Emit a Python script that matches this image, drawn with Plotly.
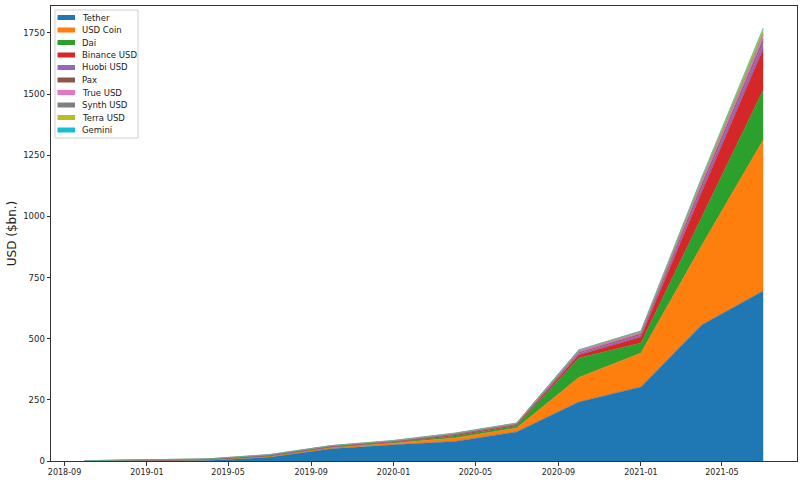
import plotly.graph_objects as go

dates = ["2018-10-01", "2019-01-01", "2019-04-01", "2019-07-01", "2019-10-01", "2020-01-01",
         "2020-04-01", "2020-07-01", "2020-10-01", "2021-01-01", "2021-04-01", "2021-07-01"]

tether = [0.5, 1, 2, 15, 50, 66, 80, 119, 241, 303, 556, 695]
usd_coin = [0.3, 1.5, 4, 5, 6, 8, 14, 16, 100, 138, 325, 617]
dai = [0, 0.1, 0.2, 0.5, 1, 2, 8, 8, 80, 41, 118, 205]
binance_usd = [0, 0.1, 0.3, 1, 1, 2, 4, 4, 12, 25, 100, 167]
huobi_usd = [0, 0, 0.2, 0.5, 1, 1, 2, 2, 6, 8, 18, 29]
pax = [0.3, 0.5, 1, 2, 2, 2, 2, 2, 5, 5, 12, 12]
true_usd = [0.3, 0.5, 1, 2, 2, 2, 3, 3, 8, 6, 15, 15]
synth_usd = [0, 0, 0, 0, 0, 0.5, 0.5, 0.5, 1, 3, 6, 8]
terra_usd = [0, 0, 0, 0, 0, 0.5, 0.5, 0.5, 1, 2, 8, 18]
gemini = [0, 0, 0, 0.1, 0.2, 0.2, 0.3, 0.3, 0.5, 1, 2, 4]

names = ["Tether", "USD Coin", "Dai", "Binance USD", "Huobi USD", "Pax",
         "True USD", "Synth USD", "Terra USD", "Gemini"]
series = [tether, usd_coin, dai, binance_usd, huobi_usd, pax, true_usd,
          synth_usd, terra_usd, gemini]
colors = ["#1f77b4", "#ff7f0e", "#2ca02c", "#d62728", "#9467bd", "#8c564b",
          "#e377c2", "#7f7f7f", "#bcbd22", "#17becf"]

y_ticks = [0, 250, 500, 750, 1000, 1250, 1500, 1750]

FONT = "DejaVu Sans"
W, H = 803, 480
ML, MR, MT, MB = 51, 6, 6, 19
PW, PH = W - ML - MR, H - MT - MB

fig = go.Figure()
for name, vals, col in zip(names, series, colors):
    fig.add_trace(go.Scatter(
        x=dates, y=vals, name=name, mode="lines", stackgroup="one",
        line=dict(width=0.5, color=col), fillcolor=col, showlegend=False,
    ))


def px_x(px):
    return (px - ML) / PW


def px_y(py):
    return (H - MB - py) / PH


shapes = [dict(type="rect", xref="paper", yref="paper",
               x0=px_x(55), x1=px_x(138), y0=px_y(138), y1=px_y(10),
               line=dict(color="#d0d0d0", width=1), fillcolor="rgba(255,255,255,0.85)",
               layer="above")]
annotations = []
for i, (name, col) in enumerate(zip(names, colors)):
    cy = 17.5 + 12.5 * i
    shapes.append(dict(type="rect", xref="paper", yref="paper",
                       x0=px_x(57.5), x1=px_x(75), y0=px_y(cy + 2.5), y1=px_y(cy - 2.5),
                       line=dict(width=0), fillcolor=col, layer="above"))
    annotations.append(dict(xref="paper", yref="paper", x=px_x(80), y=px_y(cy),
                            text=name, showarrow=False, xanchor="left", yanchor="middle",
                            font=dict(family=FONT, size=8.5, color="#222")))

fig.update_layout(
    width=W, height=H,
    margin=dict(l=ML, r=MR, t=MT, b=MB, autoexpand=False),
    paper_bgcolor="white", plot_bgcolor="white",
    font=dict(family=FONT, color="#222"),
    shapes=shapes, annotations=annotations,
    xaxis=dict(
        type="date", range=["2018-08-12", "2021-08-20"], automargin=False,
        tick0="2018-09-01", dtick="M4", tickformat="%Y-%m",
        showgrid=False, zeroline=False, showline=True, mirror=True,
        linecolor="#333", linewidth=1, ticks="outside", ticklen=3.5,
        tickcolor="#333", tickfont=dict(family=FONT, size=8, color="#222"),
    ),
    yaxis=dict(
        range=[0, 1860], tickvals=y_ticks, automargin=False,
        showgrid=False, zeroline=False, showline=True, mirror=True,
        linecolor="#333", linewidth=1, ticks="outside", ticklen=3.5,
        tickcolor="#333", tickfont=dict(family=FONT, size=8.5, color="#222"),
        title=dict(text="USD ($bn.)", font=dict(family=FONT, size=12, color="#222"),
                   standoff=3),
    ),
)

fig.write_html("out.html", config={"responsive": False, "displayModeBar": False},
               post_script="document.body.style.margin='0';document.body.style.overflow='hidden';")
